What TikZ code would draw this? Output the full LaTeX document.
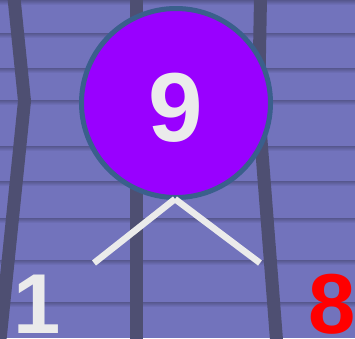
\documentclass[tikz,border=0pt]{standalone}
\usepackage{fontspec}
\setmainfont{Liberation Sans}
\definecolor{bgbase}{HTML}{7273BC}
\definecolor{bgband}{HTML}{56578E}
\definecolor{pole}{HTML}{4E4F72}
\definecolor{ballfill}{HTML}{9900FF}
\definecolor{ballrim}{HTML}{3A5F8C}
\definecolor{paleink}{HTML}{EBEBEB}
\definecolor{redink}{HTML}{FF0000}
\begin{document}
\begin{tikzpicture}[x=1pt,y=-1pt,
  band/.style={top color=bgband,bottom color=bgbase,draw=none},
  poleline/.style={draw=pole,line width=13pt,line join=miter},
  ball/.style={circle,draw=ballrim,fill=ballfill,line width=5pt,minimum size=189pt,inner sep=0pt},
  bigdigit/.style={font=\fontsize{98}{98}\selectfont\bfseries,text=paleink,anchor=base,inner sep=0pt},
  smalldigit/.style={font=\fontsize{85}{85}\selectfont\bfseries,anchor=base,inner sep=0pt},
  wline/.style={draw=paleink,line width=6.5pt,line cap=butt}]
\useasboundingbox (0,0) rectangle (355,338);
\fill[bgbase] (0,0) rectangle (355,338);
\foreach \t in {0,33,68,100,146,181,218,260,302}{
  \shade[band] (0,\t) rectangle (355,\t+5);
}
% poles
\coordinate (p1a) at (14,-2);
\coordinate (p1b) at (24.5,101);
\coordinate (p1c) at (0,340);
\draw[poleline] (p1a) -- (p1b) -- (p1c);
\coordinate (p2a) at (136.5,-2);
\coordinate (p2b) at (136.5,340);
\draw[poleline] (p2a) -- (p2b);
\coordinate (p3a) at (260.5,-2);
\coordinate (p3b) at (258.5,108);
\coordinate (p3c) at (276.5,340);
\draw[poleline] (p3a) -- (p3b) -- (p3c);
% ball
\node[ball] (c) at (176,103) {};
\node[bigdigit] (nine) at (175.5,141) {9};
% hanging lines
\coordinate (v) at (175,199);
\coordinate (l) at (94,263);
\coordinate (r) at (260,263);
\draw[wline] (v) -- (l);
\draw[wline] (v) -- (r);
% corner digits
\node[smalldigit,text=paleink] (one) at (37,333) {1};
\node[smalldigit,text=redink] (eight) at (332.5,333) {8};
\end{tikzpicture}
\end{document}
